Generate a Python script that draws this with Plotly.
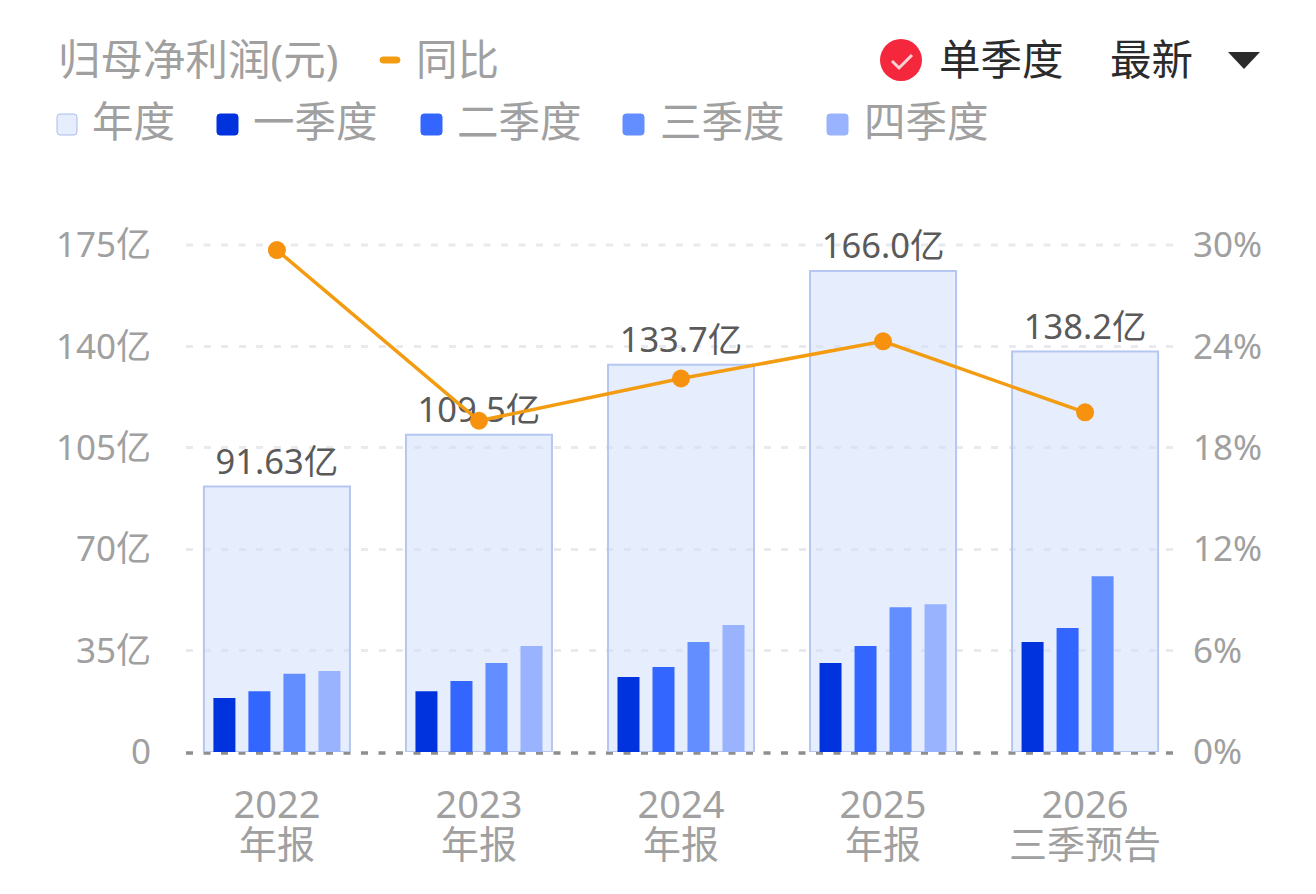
import plotly.graph_objects as go

categories = ["2022", "2023", "2024", "2025", "2026"]
sub_labels = ["年报", "年报", "年报", "年报", "三季预告"]

annual = [91.63, 109.5, 133.7, 166.0, 138.2]
annual_text = ["91.63亿", "109.5亿", "133.7亿", "166.0亿", "138.2亿"]
q1 = [18.6, 21.0, 25.9, 30.7, 38.0]
q2 = [21.0, 24.5, 29.3, 36.6, 42.8]
q3 = [27.0, 30.7, 38.0, 50.0, 60.7]
q4 = [28.0, 36.6, 43.8, 51.0, None]
yoy = [29.7, 19.6, 22.1, 24.3, 20.1]

left_ticks = [0, 35, 70, 105, 140, 175]
left_labels = ["0", "35亿", "70亿", "105亿", "140亿", "175亿"]
right_ticks = [0, 6, 12, 18, 24, 30]
right_labels = ["0%", "6%", "12%", "18%", "24%", "30%"]

legend_names = ["年度", "一季度", "二季度", "三季度", "四季度"]
q_names = legend_names[1:]
q_colors = ["#0033DD", "#3366FF", "#638EFF", "#99B3FF"]
q_offsets = [-52.5, -17.5, 17.5, 52.5]

FONT = "Noto Sans, Noto Sans CJK SC"
GRAY = "#A0A0A0"
GRID = "#E8EAEE"
DASH = "7px,10.5px"
ORANGE = "#F39C12"
W, H = 1300, 878
PAD = 8  # default body margin of the page
STEP = 202  # pixels per category
# plot area in page pixels
LEFT, RIGHT, TOP, BOTTOM = 186, 1176, 245, 752


# page pixels to paper coordinates (paper = the plot area)
def px(x):
    return (x - LEFT) / (RIGHT - LEFT)


def py(y):
    return (BOTTOM - y) / (BOTTOM - TOP)


def text(x, y, s, size=41.5, color=GRAY, anchor="left"):
    return dict(x=px(x), y=py(y), xref="paper", yref="paper", text=s, showarrow=False,
                xanchor=anchor, yanchor="middle", font=dict(family=FONT, size=size, color=color))


def swatch(x0, y0, x1, y1, fill, line=None, r=3):
    a, b, c, d = px(x0), py(y0), px(x1), py(y1)
    rx, ry = r / (RIGHT - LEFT), r / (BOTTOM - TOP)
    path = (f"M {a+rx} {b} L {c-rx} {b} Q {c} {b} {c} {b-ry} L {c} {d+ry} Q {c} {d} {c-rx} {d} "
            f"L {a+rx} {d} Q {a} {d} {a} {d+ry} L {a} {b-ry} Q {a} {b} {a+rx} {b} Z")
    return dict(type="path", path=path, xref="paper", yref="paper", fillcolor=fill,
                line=dict(color=line or fill, width=1))


fig = go.Figure()

fig.add_trace(go.Bar(x=categories, y=annual, width=146 / STEP, name="年度",
                     marker=dict(color="rgba(205,219,251,0.5)", line=dict(color="#B5C7F0", width=2)),
                     text=annual_text, textposition="outside", cliponaxis=False,
                     textfont=dict(family=FONT, size=34.5, color="#5A5A5A")))

for name, vals, col, off in zip(q_names, [q1, q2, q3, q4], q_colors, q_offsets):
    fig.add_trace(go.Bar(x=categories, y=vals, name=name, width=22 / STEP,
                         offset=(off - 11) / STEP, marker=dict(color=col, line=dict(width=0))))

fig.add_trace(go.Scatter(x=categories, y=yoy, name="同比", yaxis="y2", mode="lines+markers",
                         line=dict(color=ORANGE, width=3.5),
                         marker=dict(color="#F7920F", size=18), cliponaxis=False))

annotations = [
    text(56, 59, "归母净利润(元)", 42.5),
    text(414, 59, "同比"),
    text(937, 59, "单季度", 41.5, "#2B2B2B"),
    text(1108, 59, "最新", 41.5, "#2B2B2B"),
]
for x, name in zip([90, 251, 455, 658, 862], legend_names):
    annotations.append(text(x, 121, name))
# category axis: annotation x is the position of the category, not its name
for i, lab in enumerate(sub_labels):
    annotations.append(dict(x=i, xref="x", y=py(843), yref="paper", text=lab, showarrow=False,
                            yanchor="middle", font=dict(family=FONT, size=38, color=GRAY)))

shapes = [
    dict(type="line", xref="paper", yref="paper", x0=0, x1=1, y0=py(753), y1=py(753),
         layer="below", line=dict(color="#8E8E8E", width=3.5, dash=DASH)),
    # plotly leaves out the grid line on the edge of the range
    dict(type="line", xref="paper", yref="paper", x0=0, x1=1, y0=1, y1=1,
         layer="below", line=dict(color=GRID, width=3, dash=DASH)),
    swatch(380, 57, 400, 63, ORANGE),
    swatch(57, 114, 77, 135, "#E6EDFC", "#A9BDE8"),
    dict(type="circle", xref="paper", yref="paper", x0=px(880), x1=px(922), y0=py(39), y1=py(81),
         fillcolor="#F5273C", line=dict(width=0)),
    dict(type="path", xref="paper", yref="paper",
         path=f"M {px(892)} {py(61)} L {px(899)} {py(68)} L {px(912)} {py(55)}",
         line=dict(color="#FAD3D7", width=3)),
    dict(type="path", xref="paper", yref="paper",
         path=f"M {px(1228)} {py(52)} L {px(1260)} {py(52)} L {px(1244)} {py(69)} Z",
         fillcolor="#2B2B2B", line=dict(width=0)),
]
for x, col in zip([217, 421, 623, 827], q_colors):
    shapes.append(swatch(x, 114, x + 21, 135, col))

fig.update_layout(
    width=W, height=H, barmode="overlay", showlegend=False,
    paper_bgcolor="white", plot_bgcolor="white",
    margin=dict(l=LEFT - PAD, r=W + PAD - RIGHT, t=TOP - PAD, b=H + PAD - BOTTOM, pad=0),
    xaxis=dict(type="category", categoryorder="array", categoryarray=categories, range=[-0.45, 4.45],
               tickvals=categories, ticktext=categories, showgrid=False, zeroline=False, showline=False,
               ticks="", ticklabelstandoff=27, tickfont=dict(family=FONT, size=38, color=GRAY)),
    yaxis=dict(range=[0, 175], tickvals=left_ticks, ticktext=left_labels, zeroline=False, showline=False,
               ticks="", ticklabelstandoff=34, tickfont=dict(family=FONT, size=35, color=GRAY),
               showgrid=True, gridcolor=GRID, gridwidth=3, griddash=DASH),
    yaxis2=dict(range=[0, 30], overlaying="y", side="right", tickvals=right_ticks, ticktext=right_labels,
                showgrid=False, zeroline=False, showline=False, ticks="", ticklabelstandoff=16,
                tickfont=dict(family=FONT, size=35, color=GRAY)),
    annotations=annotations, shapes=shapes,
)

fig.write_html("out.html")
